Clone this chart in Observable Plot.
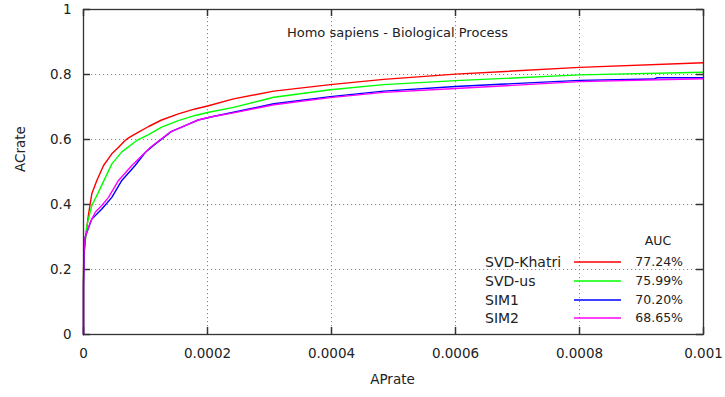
<!DOCTYPE html>
<html>
<head>
<meta charset="utf-8">
<script src="https://cdn.jsdelivr.net/npm/d3@7"></script>
<script src="https://cdn.jsdelivr.net/npm/@observablehq/plot@0.6"></script>
<style>
  html, body { margin: 0; padding: 0; background: #fff; }
  #wrap { position: relative; width: 725px; height: 397px; font-family: "DejaVu Sans", sans-serif; color: #222; }
  #wrap svg { display: block; }
  .lg { position: absolute; white-space: nowrap; transform: translateY(-50%); line-height: 1; }
  .lgline { position: absolute; height: 2px; }
</style>
</head>
<body>
<div id="wrap"></div>
<script>
// ---- data ----
const title = "Homo sapiens - Biological Process";
const xLabel = "APrate";
const yLabel = "ACrate";
const seriesNames = ["SVD-Khatri", "SVD-us", "SIM1", "SIM2"];
const seriesColors = ["#ff0000", "#00ff00", "#0000ff", "#ff00ff"];
const aucHeader = "AUC";
const aucValues = ["77.24%", "75.99%", "70.20%", "68.65%"];
const xTicks = [0, 0.0002, 0.0004, 0.0006, 0.0008, 0.001];
const xTickLabels = ["0", "0.0002", "0.0004", "0.0006", "0.0008", "0.001"];
const yTicks = [0, 0.2, 0.4, 0.6, 0.8, 1];
const yTickLabels = ["0", "0.2", "0.4", "0.6", "0.8", "1"];

const svdKhatri = [
  [0,0],[0,0.2],[0.0000008,0.25],[0.0000027,0.29],[0.0000081,0.37],[0.0000134,0.433],
  [0.0000215,0.474],[0.0000323,0.52],[0.0000457,0.556],[0.0000565,0.576],[0.0000672,0.597],
  [0.0000726,0.605],[0.0000887,0.623],[0.000105,0.64],[0.000126,0.66],[0.000153,0.679],
  [0.00018,0.694],[0.0002,0.703],[0.000242,0.725],[0.000307,0.749],[0.000398,0.769],
  [0.000484,0.785],[0.0006,0.801],[0.0008,0.822],[0.001,0.836]
];
const svdUs = [
  [0,0],[0,0.18],[0.000001,0.25],[0.0000054,0.335],[0.0000134,0.397],[0.0000242,0.438],
  [0.000035,0.482],[0.0000457,0.525],[0.0000618,0.562],[0.000086,0.597],[0.000105,0.615],
  [0.000126,0.638],[0.000153,0.658],[0.00018,0.674],[0.000202,0.684],[0.000242,0.699],
  [0.000307,0.73],[0.000398,0.753],[0.000484,0.769],[0.0006,0.781],[0.0008,0.799],[0.001,0.807]
];
const sim1 = [
  [0,0],[0,0.15],[0.000001,0.25],[0.0000027,0.30],[0.0000134,0.355],[0.0000296,0.386],
  [0.0000457,0.422],[0.0000618,0.474],[0.0000833,0.52],[0.0000995,0.56],[0.000113,0.582],
  [0.000142,0.625],[0.000164,0.643],[0.000185,0.66],[0.000207,0.67],[0.000242,0.684],
  [0.000307,0.71],[0.000398,0.732],[0.000484,0.749],[0.0006,0.763],[0.0008,0.782],
  [0.00092,0.786],[0.000925,0.79],[0.001,0.79]
];
const sim2 = [
  [0,0],[0,0.15],[0.000001,0.26],[0.0000027,0.30],[0.0000108,0.345],[0.0000189,0.376],
  [0.0000296,0.397],[0.0000403,0.422],[0.0000565,0.474],[0.000078,0.52],[0.000108,0.576],
  [0.00014,0.623],[0.000164,0.643],[0.000185,0.66],[0.000207,0.67],[0.000242,0.682],
  [0.000307,0.707],[0.000398,0.729],[0.000484,0.745],[0.0006,0.757],[0.0008,0.778],[0.001,0.787]
];
const seriesData = [svdKhatri, svdUs, sim1, sim2];

// ---- chart ----
const W = 725, H = 397;
const mL = 83, mR = 22, mT = 9, mB = 63;
const FW = W - mL - mR, FH = H - mT - mB;
const font = "DejaVu Sans, sans-serif";
const T = 7; // inward tick length (px)
const tickStyle = {stroke: "#333", strokeWidth: 1.5, strokeOpacity: 1};

const lineMarks = seriesData.map((pts, i) =>
  Plot.line(pts, {x: d => d[0], y: d => d[1], stroke: seriesColors[i], strokeWidth: 1.4, curve: "linear"})
);

const chart = Plot.plot({
  width: W, height: H,
  marginLeft: mL, marginRight: mR, marginTop: mT, marginBottom: mB,
  style: {fontFamily: font, fontSize: "13.5px", color: "#222", background: "#fff"},
  x: {domain: [0, 0.001], axis: null},
  y: {domain: [0, 1], axis: null},
  marks: [
    Plot.gridX(xTicks, {stroke: "#888", strokeOpacity: 1, strokeDasharray: "1.2,2.8"}),
    Plot.gridY(yTicks, {stroke: "#888", strokeOpacity: 1, strokeDasharray: "1.2,2.8"}),
    // inward tick stubs on all four edges (rules inset to a short stub)
    Plot.ruleX(xTicks, {x: d => d, insetTop: FH - T, ...tickStyle}),
    Plot.ruleX(xTicks, {x: d => d, insetBottom: FH - T, ...tickStyle}),
    Plot.ruleY(yTicks, {y: d => d, insetRight: FW - T, ...tickStyle}),
    Plot.ruleY(yTicks, {y: d => d, insetLeft: FW - T, ...tickStyle}),
    // tick labels
    Plot.axisX(xTicks, {anchor: "bottom", tickSize: 0, tickPadding: 14, tickFormat: (d, i) => xTickLabels[i], label: null, fill: "#222"}),
    Plot.axisY(yTicks, {anchor: "left", tickSize: 0, tickPadding: 12, tickFormat: (d, i) => yTickLabels[i], label: null, fill: "#222"}),
    ...lineMarks,
    Plot.frame({stroke: "#333", strokeWidth: 1.3}),
    Plot.text([title], {frameAnchor: "top", dy: 18, dx: 4, fontSize: 13, fill: "#222"}),
    Plot.text([xLabel], {frameAnchor: "bottom", dy: 49, dx: -1, fontSize: 13.5, fill: "#222"}),
    Plot.text([yLabel], {frameAnchor: "left", dx: -63, rotate: -90, fontSize: 13.5, fill: "#222"})
  ]
});

const wrap = document.getElementById("wrap");
wrap.appendChild(chart);

// ---- legend (inside plot, bottom right) ----
function addText(txt, left, top, opts = {}) {
  const el = document.createElement("div");
  el.className = "lg";
  el.textContent = txt;
  el.style.top = top + "px";
  el.style.fontSize = (opts.size || 13) + "px";
  if (opts.right != null) { el.style.right = opts.right + "px"; }
  else { el.style.left = left + "px"; }
  if (opts.center) { el.style.left = left + "px"; el.style.transform = "translate(-50%,-50%)"; }
  wrap.appendChild(el);
}
addText(aucHeader, 658, 241, {center: true, size: 12.5});
const rowY = [261.5, 280.5, 299.5, 318];
seriesNames.forEach((n, i) => {
  addText(n, 485, rowY[i], {size: 14});
  const ln = document.createElement("div");
  ln.className = "lgline";
  ln.style.left = "574px";
  ln.style.width = "47px";
  ln.style.top = (rowY[i] - 1) + "px";
  ln.style.background = seriesColors[i];
  ln.style.opacity = "0.75";
  wrap.appendChild(ln);
  addText(aucValues[i], 0, rowY[i], {right: 725 - 683, size: 12.5});
});
</script>
</body>
</html>
